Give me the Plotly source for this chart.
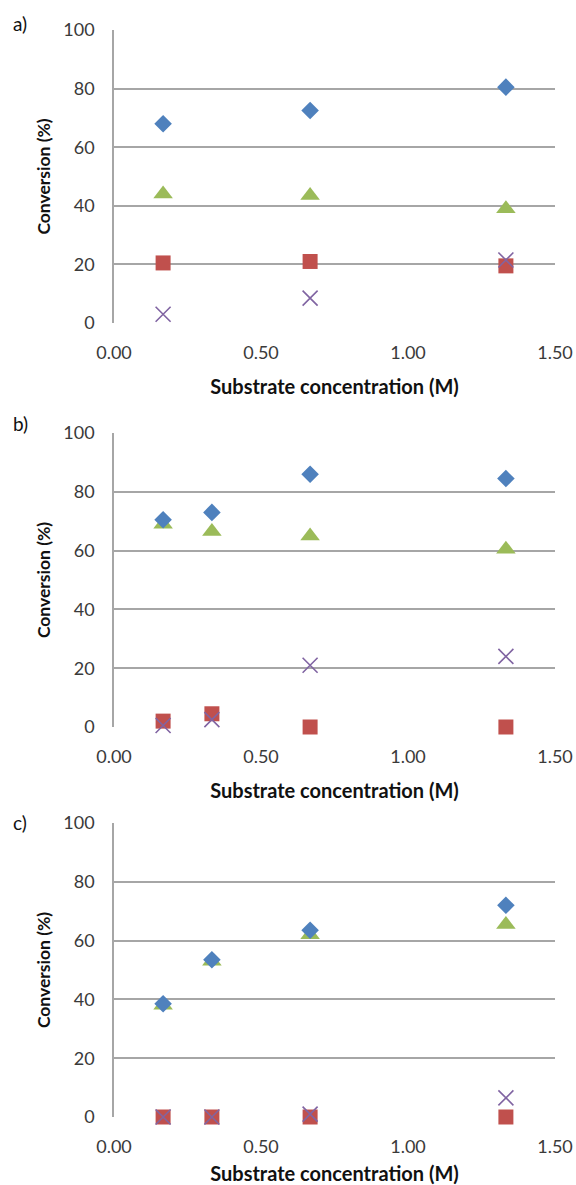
import plotly.graph_objects as go

# ---- data ----
x_a = [0.167, 0.667, 1.333]
blue_a = [68, 72.5, 80.5]
green_a = [44, 43.5, 39]
red_a = [20.5, 21, 19.5]
purple_a = [3, 8.5, 21.5]

x_bc = [0.167, 0.333, 0.667, 1.333]
blue_b = [70.5, 73, 86, 84.5]
green_b = [69, 66.5, 65, 60.5]
red_b = [2, 4.5, 0, 0]
purple_b = [0.5, 2.5, 21, 24]

blue_c = [38.5, 53.5, 63.5, 72]
green_c = [38, 53, 62, 65.5]
red_c = [0, 0, 0, 0]
purple_c = [0, 0, 1, 6.5]

panel_labels = ["a)", "b)", "c)"]
x_ticks = [0, 0.5, 1.0, 1.5]
x_ticktext = ["0.00", "0.50", "1.00", "1.50"]
y_ticks = [0, 20, 40, 60, 80, 100]

BLUE = "#4F81BD"
RED = "#C0504D"
GREEN = "#9BBB59"
PURPLE = "#8064A2"
GRID = "#A6A6A6"
FONT = "Lato, Open Sans, sans-serif"
TICKC = "#3A3A3A"
TITLEC = "#111111"

W, H = 576, 1185
left_px, right_px = 114, 555
panels_px = [(30, 323), (433, 727), (823, 1117)]
label_y_px = [24, 423, 822]

fig = go.Figure()

datasets = [
    (x_a, blue_a, green_a, red_a, purple_a),
    (x_bc, blue_b, green_b, red_b, purple_b),
    (x_bc, blue_c, green_c, red_c, purple_c),
]

for i, (xs, b, g, r, p) in enumerate(datasets):
    xa = "x" if i == 0 else f"x{i+1}"
    ya = "y" if i == 0 else f"y{i+1}"
    common = dict(xaxis=xa, yaxis=ya, mode="markers", showlegend=False, cliponaxis=False)
    fig.add_trace(go.Scatter(x=xs, y=r, marker=dict(symbol="square", size=15, color=RED, line=dict(width=0)), **common))
    fig.add_trace(go.Scatter(x=xs, y=g, marker=dict(symbol="triangle-up", size=17, color=GREEN, line=dict(width=0)), **common))
    fig.add_trace(go.Scatter(x=xs, y=b, marker=dict(symbol="diamond", size=13.5, color=BLUE, line=dict(width=0)), **common))
    fig.add_trace(go.Scatter(x=xs, y=p, marker=dict(symbol="x-thin-open", size=15, color=PURPLE, line=dict(width=1.6, color=PURPLE)), **common))

layout = dict(
    width=W, height=H,
    margin=dict(l=0, r=0, t=0, b=0, autoexpand=False),
    paper_bgcolor="white", plot_bgcolor="white",
    font=dict(family=FONT, size=18, color=TICKC),
    annotations=[],
)

for i, (top, bot) in enumerate(panels_px):
    xk = "xaxis" if i == 0 else f"xaxis{i+1}"
    yk = "yaxis" if i == 0 else f"yaxis{i+1}"
    ya = "y" if i == 0 else f"y{i+1}"
    xa = "x" if i == 0 else f"x{i+1}"
    layout[xk] = dict(
        domain=[left_px / W, right_px / W], anchor=ya,
        range=[0, 1.5], tickvals=x_ticks, ticktext=x_ticktext,
        showgrid=False, zeroline=False, showline=False, ticks="",
        ticklabelstandoff=17, automargin=False,
        tickfont=dict(family=FONT, size=18, color=TICKC),
        title=dict(text="<b>Substrate concentration (M)</b>", font=dict(family=FONT, size=20, color=TITLEC), standoff=17),
    )
    layout[yk] = dict(
        domain=[1 - bot / H, 1 - top / H], anchor=xa,
        range=[0, 100], tickvals=y_ticks,
        showgrid=True, gridcolor=GRID, gridwidth=1.5,
        zeroline=False, showline=True, linecolor=GRID, linewidth=1.5,
        ticks="", ticklabelstandoff=14, automargin=False,
        tickfont=dict(family=FONT, size=18, color=TICKC),
        title=dict(text="<b>Conversion (%)</b>", font=dict(family=FONT, size=17.5, color=TITLEC), standoff=8),
    )
    layout["annotations"].append(dict(
        text=panel_labels[i], xref="paper", yref="paper",
        x=11 / W, y=1 - label_y_px[i] / H, xanchor="left", yanchor="middle",
        showarrow=False, font=dict(family=FONT, size=19, color=TITLEC),
    ))

fig.update_layout(**layout)
fig.write_html(
    "out.html",
    config={"displayModeBar": False},
    post_script="document.body.style.margin='0';document.body.style.overflow='hidden';",
)
